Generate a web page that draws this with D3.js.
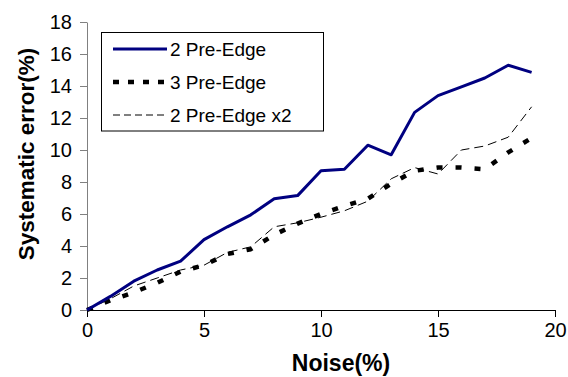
<!DOCTYPE html>
<html>
<head>
<meta charset="utf-8">
<script src="https://cdn.jsdelivr.net/npm/d3@7"></script>
<style>
    body { margin: 0; background: #fff; }
    svg { display: block; font-family: 'Liberation Sans', Arial, sans-serif; }
</style>
</head>
<body>
<svg id="chart" width="568" height="377"></svg>
<script>
// Data
const noise = [0, 1, 2, 3, 4, 5, 6, 7, 8, 9, 10, 11, 12, 13, 14, 15, 16, 17, 18, 19];
const preEdge2 = [0, 0.85, 1.8, 2.5, 3.05, 4.4, 5.2, 5.95, 6.95, 7.15, 8.7, 8.8, 10.3, 9.7, 12.35, 13.4, 13.95, 14.5, 15.3, 14.85];
const preEdge3 = [0, 0.6, 1.1, 1.7, 2.4, 2.8, 3.5, 3.8, 4.7, 5.4, 6.0, 6.5, 6.95, 7.9, 8.7, 8.9, 8.9, 8.8, 9.85, 10.75];
const preEdge2x2 = [0, 0.7, 1.5, 2.0, 2.5, 2.8, 3.6, 3.95, 5.2, 5.45, 5.8, 6.2, 6.8, 8.2, 8.9, 8.5, 10.0, 10.25, 10.8, 12.7];
const xTicks = [0, 5, 10, 15, 20];
const yTicks = [0, 2, 4, 6, 8, 10, 12, 14, 16, 18];
const seriesNames = ['2 Pre-Edge', '3 Pre-Edge', '2 Pre-Edge x2'];

const svg = d3.select('#chart');
const margins = { left: 87, top: 22, right: 13, bottom: 67 };
const width = 568, height = 377;
const innerWidth = width - margins.left - margins.right;
const innerHeight = height - margins.top - margins.bottom;

const x = d3.scaleLinear().domain([0, 20]).range([0, innerWidth]);
const y = d3.scaleLinear().domain([0, 18]).range([innerHeight, 0]);

const styles = [
    { stroke: '#000080', width: 3, dash: null, legendDash: null },
    { stroke: '#000', width: 4.5, dash: '6 13', legendDash: '6 9' },
    { stroke: '#000', width: 1, dash: '9 5', legendDash: '7 4' },
];

const series = [preEdge2, preEdge3, preEdge2x2].map((vals, i) => ({
    name: seriesNames[i],
    style: styles[i],
    data: noise.map((n, j) => ({ x: n, y: vals[j] })),
}));

const plot = svg.append('g')
    .attr('transform', `translate(${margins.left}, ${margins.top})`);

// Axes
const xAxis = d3.axisBottom(x).tickValues(xTicks).tickSizeInner(7).tickSizeOuter(0).tickPadding(6);
const yAxis = d3.axisLeft(y).tickValues(yTicks).tickSizeInner(7).tickSizeOuter(0).tickPadding(8);

const yAxisContainer = plot.append('g').attr('class', 'y-axis').call(yAxis);
yAxisContainer.select('.domain').attr('stroke', '#808080');
yAxisContainer.selectAll('.tick line').attr('stroke', '#808080');

const xAxisContainer = plot.append('g')
    .attr('class', 'x-axis')
    .attr('transform', `translate(0, ${innerHeight})`)
    .call(xAxis);

svg.selectAll('.tick text')
    .attr('fill', '#000')
    .style('font-size', '20px')
    .style('font-family', "'Liberation Sans', Arial, sans-serif");

// Lines
const line = d3.line().x(d => x(d.x)).y(d => y(d.y));

plot.selectAll('path.data')
    .data(series.slice().reverse())
    .enter()
    .append('path')
    .attr('class', 'data')
    .attr('fill', 'none')
    .attr('stroke', d => d.style.stroke)
    .attr('stroke-width', d => d.style.width)
    .attr('stroke-dasharray', d => d.style.dash)
    .attr('stroke-linejoin', 'round')
    .attr('d', d => line(d.data));

// Axis titles
svg.append('text')
    .attr('x', 341)
    .attr('y', 371)
    .attr('text-anchor', 'middle')
    .style('font-size', '23px')
    .style('font-weight', 'bold')
    .text('Noise(%)');

svg.append('text')
    .attr('transform', 'translate(34, 154) rotate(-90)')
    .attr('text-anchor', 'middle')
    .style('font-size', '22.5px')
    .style('font-weight', 'bold')
    .text('Systematic error(%)');

// Legend
const legend = svg.append('g').attr('class', 'legend');
legend.append('rect')
    .attr('x', 101.5)
    .attr('y', 32.5)
    .attr('width', 222)
    .attr('height', 98.5)
    .attr('fill', '#fff')
    .attr('stroke', '#000')
    .attr('stroke-width', 1);

const items = legend.selectAll('g.legend-item')
    .data(series)
    .enter()
    .append('g')
    .attr('class', 'legend-item')
    .attr('transform', (d, i) => `translate(0, ${49 + i * 33})`);

items.append('line')
    .attr('x1', 113)
    .attr('x2', 167)
    .attr('stroke', d => d.style.stroke)
    .attr('stroke-width', d => d.style.width)
    .attr('stroke-dasharray', d => d.style.legendDash);

items.append('text')
    .attr('x', 170)
    .attr('dy', '0.35em')
    .style('font-size', '19px')
    .text(d => d.name);
</script>
</body>
</html>
